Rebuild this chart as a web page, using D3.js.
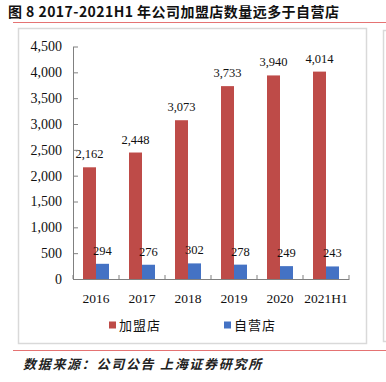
<!DOCTYPE html>
<html lang="zh">
<head>
<meta charset="UTF-8">
<title>2017-2021H1 加盟店与自营店</title>
<style>
    body { margin: 0; padding: 0; background: #ffffff; }
    svg { display: block; }
    .title { font-family: 'Noto Sans CJK SC', sans-serif; font-weight: bold; font-size: 14px; letter-spacing: 0.45px; fill: #111; }
    .source { font-family: 'Noto Sans CJK SC', sans-serif; font-style: italic; font-weight: bold; font-size: 13px; letter-spacing: 1.7px; fill: #222; }
    .axis text { font-family: 'Liberation Serif', 'Times New Roman', serif; fill: #111; }
    .label { font-family: 'Liberation Serif', 'Times New Roman', serif; font-size: 12.5px; fill: #111; }
    .legend text { font-family: 'Noto Sans CJK SC', sans-serif; font-size: 13px; letter-spacing: 1px; fill: #111; }
</style>
</head>
<body>
<div id="chart"></div>
<script src="https://cdnjs.cloudflare.com/ajax/libs/d3/7.8.5/d3.min.js"></script>
<script>
    const years = ['2016', '2017', '2018', '2019', '2020', '2021H1'];
    const franchise = [2162, 2448, 3073, 3733, 3940, 4014];
    const selfRun = [294, 276, 302, 278, 249, 243];
    const seriesNames = ['加盟店', '自营店'];
    const seriesColors = ['#BE4B48', '#4472C4'];
    const yTicks = [0, 500, 1000, 1500, 2000, 2500, 3000, 3500, 4000, 4500];

    const width = 386, height = 382;
    const plotLeft = 73, plotRight = 349, plotTop = 46.5, plotBottom = 279;

    const svg = d3.select('#chart').append('svg')
        .attr('width', width)
        .attr('height', height);

    // title and red rules
    svg.append('text').attr('class', 'title')
        .attr('x', 8).attr('y', 17)
        .text('图 8 2017-2021H1 年公司加盟店数量远多于自营店');
    svg.append('line').attr('x1', 13).attr('x2', 386).attr('y1', 22.5).attr('y2', 22.5)
        .attr('stroke', '#E57373').attr('stroke-width', 1.2);
    svg.append('line').attr('x1', 13).attr('x2', 386).attr('y1', 350.5).attr('y2', 350.5)
        .attr('stroke', '#E57373').attr('stroke-width', 1.2);

    // chart frame + neighbouring frame edge
    svg.append('rect').attr('x', 18.5).attr('y', 28.5).attr('width', 348).attr('height', 315)
        .attr('fill', 'none').attr('stroke', '#d9d9d9').attr('stroke-width', 1.5);
    svg.append('path').attr('d', 'M386,30.5 H383.5 V341.5 H386')
        .attr('fill', 'none').attr('stroke', '#d9d9d9').attr('stroke-width', 1.5);

    svg.append('text').attr('class', 'source')
        .attr('x', 23).attr('y', 369)
        .text('数据来源：公司公告 上海证券研究所');

    const x0 = d3.scaleBand().domain(years).range([plotLeft, plotRight])
        .paddingInner(0.435).paddingOuter(0.2175);
    const x1 = d3.scaleBand().domain([0, 1]).range([0, x0.bandwidth()]);
    const y = d3.scaleLinear().domain([0, 4500]).range([plotBottom, plotTop]);

    const data = years.map((yr, i) => ({ year: yr, values: [franchise[i], selfRun[i]] }));

    // bars
    const groups = svg.append('g').selectAll('g').data(data).join('g')
        .attr('transform', d => `translate(${x0(d.year)},0)`);
    groups.selectAll('rect').data(d => d.values.map((v, k) => ({ v, k }))).join('rect')
        .attr('x', d => x1(d.k))
        .attr('y', d => y(d.v))
        .attr('width', x1.bandwidth())
        .attr('height', d => plotBottom - y(d.v))
        .attr('fill', d => seriesColors[d.k]);
    groups.selectAll('text').data(d => d.values.map((v, k) => ({ v, k }))).join('text')
        .attr('class', 'label')
        .attr('x', d => x1(d.k) + x1.bandwidth() / 2)
        .attr('y', d => y(d.v) - 9)
        .attr('text-anchor', 'middle')
        .text(d => d3.format(',')(d.v));

    // y axis
    const yAxis = svg.append('g').attr('class', 'axis')
        .attr('transform', `translate(${plotLeft},0)`)
        .call(d3.axisLeft(y).tickValues(yTicks).tickFormat(d3.format(',')).tickSizeInner(-5).tickSizeOuter(0).tickPadding(11));
    yAxis.selectAll('text').style('font-size', '14px');
    yAxis.selectAll('line, path').attr('stroke', '#808080');

    // x axis
    const xAxis = svg.append('g').attr('class', 'axis')
        .attr('transform', `translate(0,${plotBottom})`)
        .call(d3.axisBottom(x0).tickSize(0).tickPadding(14));
    xAxis.selectAll('text').style('font-size', '13.5px');
    xAxis.select('path').attr('stroke', '#808080');
    const bounds = years.map(yr => x0(yr) - (x0.step() - x0.bandwidth()) / 2).concat([plotRight]);
    xAxis.selectAll('line.sep').data(bounds).join('line')
        .attr('class', 'sep')
        .attr('x1', d => d).attr('x2', d => d)
        .attr('y1', 0).attr('y2', -4)
        .attr('stroke', '#808080');

    // legend
    const legendX = [109, 224];
    const legend = svg.append('g').attr('class', 'legend');
    seriesNames.forEach((name, i) => {
        legend.append('rect').attr('x', legendX[i]).attr('y', 321.5)
            .attr('width', 7).attr('height', 7).attr('fill', seriesColors[i]);
        legend.append('text').attr('x', legendX[i] + 10).attr('y', 330).text(name);
    });
</script>
</body>
</html>
